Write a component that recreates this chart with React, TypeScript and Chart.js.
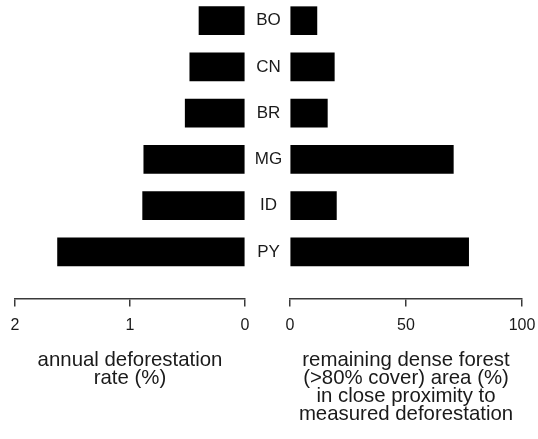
import React, { useEffect, useRef } from "react";
import { Chart, registerables } from "chart.js";

Chart.register(...registerables);

// ---- data ----
const countries = ["BO", "CN", "BR", "MG", "ID", "PY"];
const deforestationRate = [0.40, 0.48, 0.52, 0.88, 0.89, 1.63];
const remainingForest = [11.6, 19.1, 16.1, 70.4, 20.0, 77.0];
const rateTicks = [0, 1, 2];
const forestTicks = [0, 50, 100];
const rateTitle = ["annual deforestation", "rate (%)"];
const forestTitle = [
  "remaining dense forest",
  "(>80% cover) area (%)",
  "in close proximity to",
  "measured deforestation",
];

// ---- style ----
const FONT = "'Liberation Sans', Arial, Helvetica, sans-serif";
const INK = "#1a1a1a";
const AXIS = "#3a3a3a";
const W = 538;
const H = 439;

function xAxis(min: number, max: number, ticksArr: number[], title: string[], reverse: boolean) {
  return {
    type: "linear",
    position: "bottom",
    min,
    max,
    reverse,
    offset: false,
    afterBuildTicks: (s: any) => {
      s.ticks = ticksArr.map((v) => ({ value: v }));
    },
    afterFit: (s: any) => {
      s.paddingLeft = 0;
      s.paddingRight = 0;
    },
    grid: {
      display: true,
      drawOnChartArea: false,
      drawTicks: true,
      tickLength: 8,
      color: AXIS,
      lineWidth: 1.5,
    },
    border: { display: true, color: AXIS, width: 1.5 },
    ticks: {
      padding: 9.4,
      color: INK,
      autoSkip: false,
      maxRotation: 0,
      font: { family: FONT, size: 16, lineHeight: 1.2 },
    },
    title: {
      display: true,
      text: title,
      color: INK,
      font: { family: FONT, size: 20.4, lineHeight: 0.892 },
      padding: { top: 6.6, bottom: 0 },
    },
  };
}

const Y_MIN = -0.015;
const Y_MAX = 6.01;

function barData(values: number[]) {
  return countries.map((_, i) => ({ x: values[i], y: i }));
}

export default function App() {
  const leftRef = useRef<HTMLCanvasElement | null>(null);
  const rightRef = useRef<HTMLCanvasElement | null>(null);

  useEffect(() => {
    const common = {
      animation: false,
      responsive: false,
      indexAxis: "y",
      plugins: { legend: { display: false }, tooltip: { enabled: false } },
    };

    const left = new Chart(leftRef.current as HTMLCanvasElement, {
      type: "bar",
      data: {
        datasets: [
          {
            data: barData(deforestationRate),
            backgroundColor: "#000",
            borderWidth: 0,
            barThickness: 28,
            clip: false,
          } as any,
        ],
      },
      options: {
        ...common,
        layout: { padding: { left: 15, right: W - 245, top: 20, bottom: 51.5 } },
        scales: {
          x: xAxis(0, 2, rateTicks, rateTitle, true),
          y: {
            type: "linear",
            reverse: true,
            offset: false,
            min: Y_MIN,
            max: Y_MAX,
            display: false,
          },
        },
      } as any,
    });

    const right = new Chart(rightRef.current as HTMLCanvasElement, {
      type: "bar",
      data: {
        datasets: [
          {
            data: barData(remainingForest),
            backgroundColor: "#000",
            borderWidth: 0,
            barThickness: 28,
            clip: false,
          } as any,
        ],
      },
      options: {
        ...common,
        layout: { padding: { left: 246, right: W - 522, top: 20, bottom: 15.1 } },
        scales: {
          x: xAxis(0, 100, forestTicks, forestTitle, false),
          y: {
            type: "linear",
            position: "left",
            reverse: true,
            offset: false,
            min: Y_MIN,
            max: Y_MAX,
            afterBuildTicks: (s: any) => {
              s.ticks = countries.map((_, i) => ({ value: i }));
            },
            afterFit: (s: any) => {
              s.width = 44;
              s.paddingTop = 0;
              s.paddingBottom = 0;
            },
            grid: { display: false, drawTicks: false },
            border: { display: false },
            ticks: {
              autoSkip: false,
              padding: 7.8,
              crossAlign: "center",
              color: INK,
              font: { family: FONT, size: 17, lineHeight: 1.2 },
              callback: (v: any) => countries[v as number] ?? "",
            },
          },
        },
      } as any,
    });

    return () => {
      left.destroy();
      right.destroy();
    };
  }, []);

  return (
    <div style={{ position: "absolute", left: 0, top: 0, width: W, height: H, background: "#fff" }}>
      <canvas ref={leftRef} width={W} height={H} style={{ position: "absolute", left: 0, top: 0 }} />
      <canvas ref={rightRef} width={W} height={H} style={{ position: "absolute", left: 0, top: 0 }} />
    </div>
  );
}
